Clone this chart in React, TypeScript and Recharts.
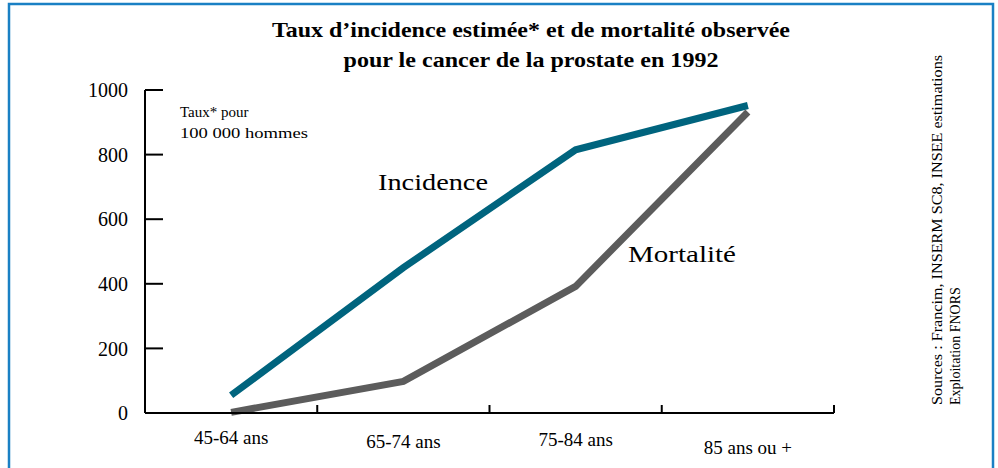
import React from "react";
import { LineChart, Line, XAxis, YAxis } from "recharts";

const ageGroups = ["45-64 ans", "65-74 ans", "75-84 ans", "85 ans ou +"];
const incidence = [55, 450, 815, 952];
const mortalite = [2, 98, 392, 932];
const yTicks = [0, 200, 400, 600, 800, 1000];

const data = ageGroups.map((age, i) => ({ age, incidence: incidence[i], mortalite: mortalite[i] }));

const W = 998;
const H = 468;
const margin = { top: 90, right: 164, bottom: 15, left: 85 };
const yAxisWidth = 60;
const plotW = W - margin.left - yAxisWidth - margin.right;
const band = plotW / ageGroups.length;
const serif = "Liberation Serif";
const labelShift = [0, 4, 2, 10];

// tick marks sit between the age groups, labels in the middle
const XTick = (props: any) => {
  const x = Number(props.x);
  const y = Number(props.y);
  const index = props.index;
  const last = index === ageGroups.length - 1;
  return (
    <g>
      <path d={`M${x - band / 2},${y}V${y - 8}`} stroke="#000" strokeWidth={2} />
      {last && <path d={`M${x + band / 2},${y}V${y - 8}`} stroke="#000" strokeWidth={2} />}
      <text x={x} y={y + 31 + labelShift[index]} textAnchor="middle" fontFamily={serif} fontSize={19} fill="#000">
        {props.payload.value}
      </text>
    </g>
  );
};

export default function App() {
  return (
    <div style={{ position: "absolute", left: 0, top: 0, width: W, height: H, background: "#fff" }}>
      <LineChart width={W} height={H} data={data} margin={margin}>
        <XAxis
          dataKey="age"
          scale="band"
          stroke="#000"
          strokeWidth={2}
          tickLine={false}
          tickSize={0}
          tickMargin={0}
          tick={<XTick />}
          interval={0}
          height={40}
        />
        <YAxis
          domain={[0, 1000]}
          ticks={yTicks}
          stroke="#000"
          strokeWidth={2}
          tickSize={-18}
          tickMargin={35}
          tick={{ fontFamily: serif, fontSize: 20, fill: "#000" }}
          width={yAxisWidth}
        />
        <Line type="linear" dataKey="incidence" stroke="#00647e" strokeWidth={7} dot={false} isAnimationActive={false} />
        <Line type="linear" dataKey="mortalite" stroke="#5c5c5c" strokeWidth={7} dot={false} isAnimationActive={false} />
      </LineChart>
      <svg width={W} height={H} style={{ position: "absolute", left: 0, top: 0, pointerEvents: "none" }}>
        <rect x={9} y={4} width={984} height={480} fill="none" stroke="#1a80c4" strokeWidth={2.5} />
        <text x={531} y={37} textAnchor="middle" fontFamily={serif} fontWeight="bold" fontSize={21} textLength={518} lengthAdjust="spacingAndGlyphs">
          Taux d’incidence estimée* et de mortalité observée
        </text>
        <text x={531} y={67} textAnchor="middle" fontFamily={serif} fontWeight="bold" fontSize={21} textLength={375} lengthAdjust="spacingAndGlyphs">
          pour le cancer de la prostate en 1992
        </text>
        <text x={180} y={117} fontFamily={serif} fontSize={15}>Taux* pour</text>
        <text x={180} y={138} fontFamily={serif} fontSize={15} textLength={128} lengthAdjust="spacingAndGlyphs">100 000 hommes</text>
        <text x={378} y={190} fontFamily={serif} fontSize={23} textLength={110} lengthAdjust="spacingAndGlyphs">Incidence</text>
        <text x={628} y={262} fontFamily={serif} fontSize={23} textLength={108} lengthAdjust="spacingAndGlyphs">Mortalité</text>
        <g transform="translate(942, 405) rotate(-90)">
          <text x={0} y={0} fontFamily={serif} fontSize={14} textLength={350} lengthAdjust="spacingAndGlyphs">
            Sources : Francim,  INSERM SC8, INSEE estimations
          </text>
          <text x={0} y={18} fontFamily={serif} fontSize={14}>Exploitation FNORS</text>
        </g>
      </svg>
    </div>
  );
}
